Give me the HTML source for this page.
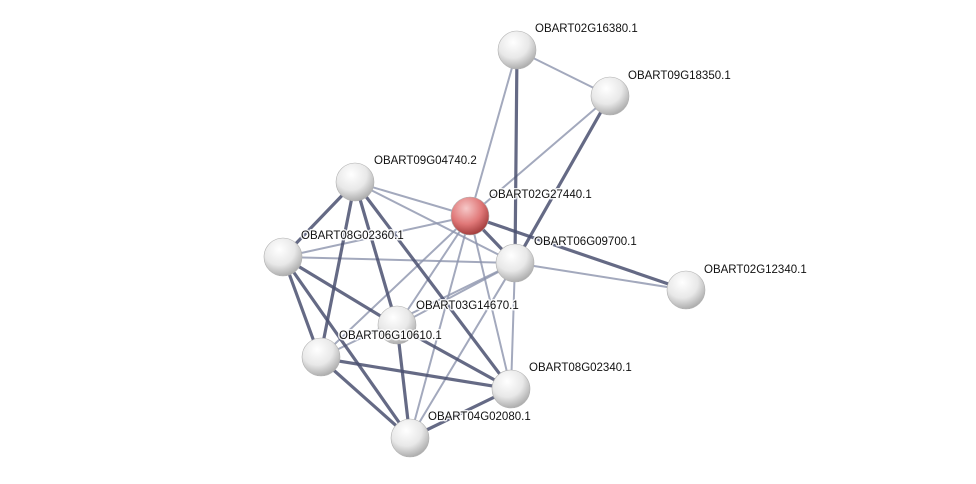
<!DOCTYPE html>
<html><head><meta charset="utf-8"><style>
html,body{margin:0;padding:0;background:#fff;}
svg{display:block;}
text{font-family:"Liberation Sans",sans-serif;font-size:11.5px;fill:#111;stroke:#fff;stroke-width:3px;stroke-opacity:0.85;paint-order:stroke;stroke-linejoin:round;}
</style></head><body>
<svg width="976" height="484" viewBox="0 0 976 484" xmlns="http://www.w3.org/2000/svg">
<defs>
<radialGradient id="g" cx="0.4" cy="0.3" r="0.75">
<stop offset="0" stop-color="#ffffff"/><stop offset="0.55" stop-color="#e8e8e8"/><stop offset="1" stop-color="#a5a5a5"/>
</radialGradient>
<radialGradient id="r" cx="0.4" cy="0.3" r="0.75">
<stop offset="0" stop-color="#f6c8c8"/><stop offset="0.55" stop-color="#e07878"/><stop offset="1" stop-color="#9a3434"/>
</radialGradient>
</defs>
<g stroke-linecap="round">
<g stroke="#8c93ad" stroke-width="2" stroke-opacity="0.8">
<line x1="517" y1="50" x2="610" y2="96"/>
<line x1="517" y1="50" x2="470" y2="216"/>
<line x1="610" y1="96" x2="470" y2="216"/>
<line x1="515" y1="263" x2="686" y2="290"/>
<line x1="355" y1="182" x2="470" y2="216"/>
<line x1="355" y1="182" x2="515" y2="263"/>
<line x1="283" y1="257" x2="470" y2="216"/>
<line x1="283" y1="257" x2="515" y2="263"/>
<line x1="470" y1="216" x2="397" y2="326"/>
<line x1="470" y1="216" x2="320" y2="358"/>
<line x1="470" y1="216" x2="511" y2="389"/>
<line x1="470" y1="216" x2="410" y2="438"/>
<line x1="515" y1="263" x2="397" y2="326"/>
<line x1="515" y1="263" x2="320" y2="358"/>
<line x1="515" y1="263" x2="511" y2="389"/>
<line x1="515" y1="263" x2="410" y2="438"/>
</g>
<g stroke="#4a5070" stroke-width="3.2" stroke-opacity="0.85">
<line x1="517" y1="50" x2="515" y2="263"/>
<line x1="610" y1="96" x2="515" y2="263"/>
<line x1="470" y1="216" x2="515" y2="263"/>
<line x1="470" y1="216" x2="686" y2="290"/>
<line x1="355" y1="182" x2="283" y2="257"/>
<line x1="355" y1="182" x2="320" y2="358"/>
<line x1="355" y1="182" x2="397" y2="326"/>
<line x1="355" y1="182" x2="511" y2="389"/>
<line x1="283" y1="257" x2="320" y2="358"/>
<line x1="283" y1="257" x2="410" y2="438"/>
<line x1="283" y1="257" x2="397" y2="326"/>
<line x1="397" y1="326" x2="511" y2="389"/>
<line x1="397" y1="326" x2="410" y2="438"/>
<line x1="320" y1="358" x2="511" y2="389"/>
<line x1="320" y1="358" x2="410" y2="438"/>
<line x1="511" y1="389" x2="410" y2="438"/>
</g>
</g>
<g stroke="#b0b0b0" stroke-width="0.6">
<circle cx="517" cy="50" r="19" fill="url(#g)"/>
<circle cx="610" cy="96" r="19" fill="url(#g)"/>
<circle cx="355" cy="182" r="19" fill="url(#g)"/>
<circle cx="283" cy="257" r="19" fill="url(#g)"/>
<circle cx="515" cy="263" r="19" fill="url(#g)"/>
<circle cx="686" cy="290" r="19" fill="url(#g)"/>
<circle cx="397" cy="325" r="19" fill="url(#g)"/>
<circle cx="321" cy="357" r="19" fill="url(#g)"/>
<circle cx="511" cy="389" r="19" fill="url(#g)"/>
<circle cx="410" cy="438" r="19" fill="url(#g)"/>
<circle cx="470" cy="216" r="19" fill="url(#r)"/>
</g>
<text x="535" y="32">OBART02G16380.1</text>
<text x="628" y="79">OBART09G18350.1</text>
<text x="374" y="164">OBART09G04740.2</text>
<text x="489" y="198">OBART02G27440.1</text>
<text x="301" y="239">OBART08G02360.1</text>
<text x="534" y="245">OBART06G09700.1</text>
<text x="704" y="273">OBART02G12340.1</text>
<text x="416" y="309">OBART03G14670.1</text>
<text x="339" y="339">OBART06G10610.1</text>
<text x="529" y="371">OBART08G02340.1</text>
<text x="428" y="420">OBART04G02080.1</text>
</svg>
</body></html>
